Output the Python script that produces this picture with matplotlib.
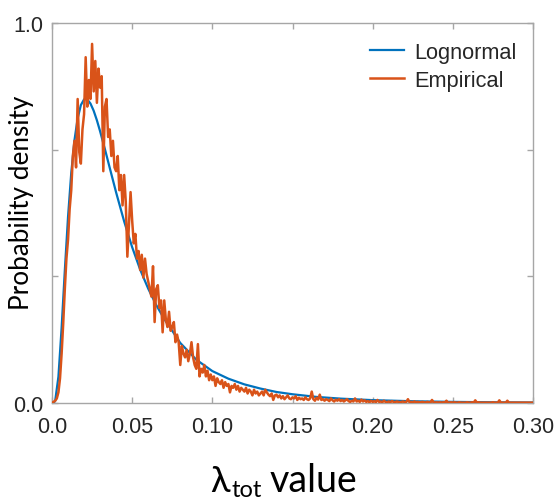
import matplotlib
matplotlib.use("Agg")
import matplotlib.pyplot as plt
import numpy as np

# ---- data ----
logn_x = [0.000, 0.001, 0.002, 0.004, 0.006, 0.008, 0.010, 0.012, 0.014, 0.016, 0.018,
          0.020, 0.022, 0.024, 0.026, 0.028, 0.030, 0.033, 0.036, 0.040, 0.045,
          0.050, 0.055, 0.060, 0.065, 0.070, 0.075, 0.080, 0.090, 0.100, 0.110,
          0.120, 0.130, 0.140, 0.150, 0.165, 0.180, 0.200, 0.225, 0.250, 0.275, 0.300]
logn_y = [0.000, 0.000, 0.006, 0.069, 0.198, 0.349, 0.490, 0.605, 0.691, 0.749, 0.784,
          0.799, 0.799, 0.788, 0.769, 0.744, 0.715, 0.668, 0.619, 0.554, 0.478,
          0.410, 0.351, 0.301, 0.258, 0.221, 0.190, 0.158, 0.114, 0.084, 0.064,
          0.049, 0.038, 0.029, 0.023, 0.016, 0.0115, 0.0075, 0.0046, 0.0029, 0.0019, 0.0012]

emp_start = 0.000
emp_step = 0.001
emp_y = [
    0.000, 0.003, 0.006, 0.012, 0.028, 0.065, 0.130, 0.210, 0.300, 0.380,
    0.430, 0.510, 0.560, 0.650, 0.690, 0.620, 0.800, 0.660, 0.630, 0.720,
    0.760, 0.910, 0.780, 0.850, 0.800, 0.945, 0.820, 0.900, 0.790, 0.880,
    0.830, 0.860, 0.610, 0.780, 0.800, 0.700, 0.720, 0.650, 0.690, 0.620,
    0.610, 0.650, 0.560, 0.600, 0.520, 0.600, 0.530, 0.385, 0.470, 0.555,
    0.480, 0.420, 0.445, 0.380, 0.400, 0.350, 0.390, 0.330, 0.380, 0.340,
    0.320, 0.300, 0.280, 0.360, 0.213, 0.300, 0.310, 0.250, 0.270, 0.186,
    0.270, 0.220, 0.200, 0.240, 0.190, 0.200, 0.213, 0.160, 0.180, 0.160,
    0.100, 0.150, 0.130, 0.120, 0.140, 0.110, 0.130, 0.160, 0.120, 0.100,
    0.090, 0.155, 0.070, 0.090, 0.080, 0.100, 0.070, 0.085, 0.060, 0.075,
    0.060, 0.070, 0.045, 0.065, 0.055, 0.050, 0.060, 0.040, 0.055, 0.045,
    0.050, 0.028, 0.045, 0.040, 0.050, 0.035, 0.045, 0.030, 0.040, 0.035,
    0.030, 0.040, 0.025, 0.035, 0.030, 0.020, 0.035, 0.025, 0.030, 0.020,
    0.025, 0.030, 0.020, 0.035, 0.028, 0.022, 0.018, 0.025, 0.008, 0.020,
    0.022, 0.015, 0.020, 0.012, 0.018, 0.010, 0.015, 0.020, 0.012, 0.010,
    0.015, 0.012, 0.018, 0.008, 0.014, 0.010, 0.012, 0.008, 0.015, 0.010,
    0.008, 0.012, 0.030, 0.010, 0.006, 0.014, 0.009, 0.022, 0.008, 0.010,
    0.006, 0.010, 0.008, 0.005, 0.012, 0.007, 0.004, 0.009, 0.006, 0.010,
    0.005, 0.008, 0.004, 0.007, 0.010, 0.005, 0.003, 0.006, 0.004, 0.012,
    0.004, 0.006, 0.003, 0.009, 0.004, 0.007, 0.003, 0.005, 0.002, 0.006,
    0.003, 0.005, 0.002, 0.008, 0.003, 0.004, 0.002, 0.006, 0.003, 0.002,
    0.004, 0.002, 0.005, 0.003, 0.002, 0.004, 0.003, 0.002, 0.003, 0.004,
    0.002, 0.003, 0.010, 0.002, 0.003, 0.002, 0.004, 0.002, 0.003, 0.002,
    0.002, 0.003, 0.002, 0.001, 0.003, 0.002, 0.001, 0.008, 0.002, 0.001,
    0.002, 0.001, 0.002, 0.001, 0.002, 0.001, 0.006, 0.001, 0.001, 0.002,
    0.001, 0.002, 0.001, 0.001, 0.002, 0.001, 0.001, 0.001, 0.001, 0.002,
    0.001, 0.001, 0.002, 0.001, 0.007, 0.001, 0.002, 0.001, 0.001, 0.001,
    0.001, 0.001, 0.001, 0.001, 0.001, 0.002, 0.001, 0.001, 0.001, 0.007,
    0.001, 0.001, 0.001, 0.001, 0.006, 0.001, 0.001, 0.001, 0.001, 0.001,
    0.001, 0.001, 0.001, 0.001, 0.001, 0.001, 0.001, 0.001, 0.001, 0.001,
    0.001,
]
emp_x = emp_start + emp_step * np.arange(len(emp_y))

xticks = [0.0, 0.05, 0.10, 0.15, 0.20, 0.25, 0.30]
xtick_labels = ["0.0", "0.05", "0.10", "0.15", "0.20", "0.25", "0.30"]
yticks = [0.0, 1/3, 2/3, 1.0]
ytick_labels = ["0.0", "", "", "1.0"]

series_names = ["Lognormal", "Empirical"]
colors = ["#0072BD", "#D95319"]

# ---- figure ----
W, H = 556, 502
fig = plt.figure(figsize=(W/100, H/100), dpi=100)
ax = fig.add_axes([52/W, 1 - 404/H, (533-52)/W, (404-24)/H])

ax.plot(logn_x, logn_y, color=colors[0], lw=1.6, label=series_names[0], zorder=2)
ax.plot(emp_x, emp_y, color=colors[1], lw=1.8, label=series_names[1], zorder=3)

ax.set_xlim(0, 0.30)
ax.set_ylim(0, 1.0)
ax.set_xticks(xticks)
ax.set_xticklabels(xtick_labels)
ax.set_yticks(yticks)
ax.set_yticklabels(ytick_labels)

tick_family = ["Liberation Sans", "DejaVu Sans"]
for lab in ax.get_xticklabels() + ax.get_yticklabels():
    lab.set_fontfamily(tick_family)
    lab.set_fontsize(15.5)
    lab.set_color("#262626")

spine_c = "#a6a6a6"
for s in ax.spines.values():
    s.set_color(spine_c)
    s.set_linewidth(1.0)
ax.tick_params(direction="in", length=4, width=1.0, color=spine_c,
               top=True, right=True, labeltop=False, labelright=False)
ax.tick_params(axis="x", pad=9.5)
ax.tick_params(axis="y", pad=6)

leg = ax.legend(loc="upper right", bbox_to_anchor=(0.965, 0.95), frameon=False,
                prop={"family": tick_family, "size": 15.7},
                handlelength=1.55, handletextpad=0.45, labelspacing=0.3,
                borderpad=0.0, borderaxespad=0.0)
for t in leg.get_texts():
    t.set_color("#262626")

# y label
fig.text(22/W, 1 - 203/H, "Probability density", rotation=90, ha="center", va="center",
         family=["Lato", "DejaVu Sans"], fontsize=18.8, color="black")

# x label pieces
fig.text(210/W, 1 - 492/H, "λ", ha="left", va="baseline",
         family=["Lato", "DejaVu Sans"], fontsize=26, color="black")
fig.text(232/W, 1 - 497/H, "tot", ha="left", va="baseline",
         family=["Lato", "DejaVu Sans"], fontsize=17, color="black")
fig.text(270/W, 1 - 492/H, "value", ha="left", va="baseline",
         family=["Lato", "DejaVu Sans"], fontsize=27, color="black")

fig.savefig("out.png", dpi=100)
